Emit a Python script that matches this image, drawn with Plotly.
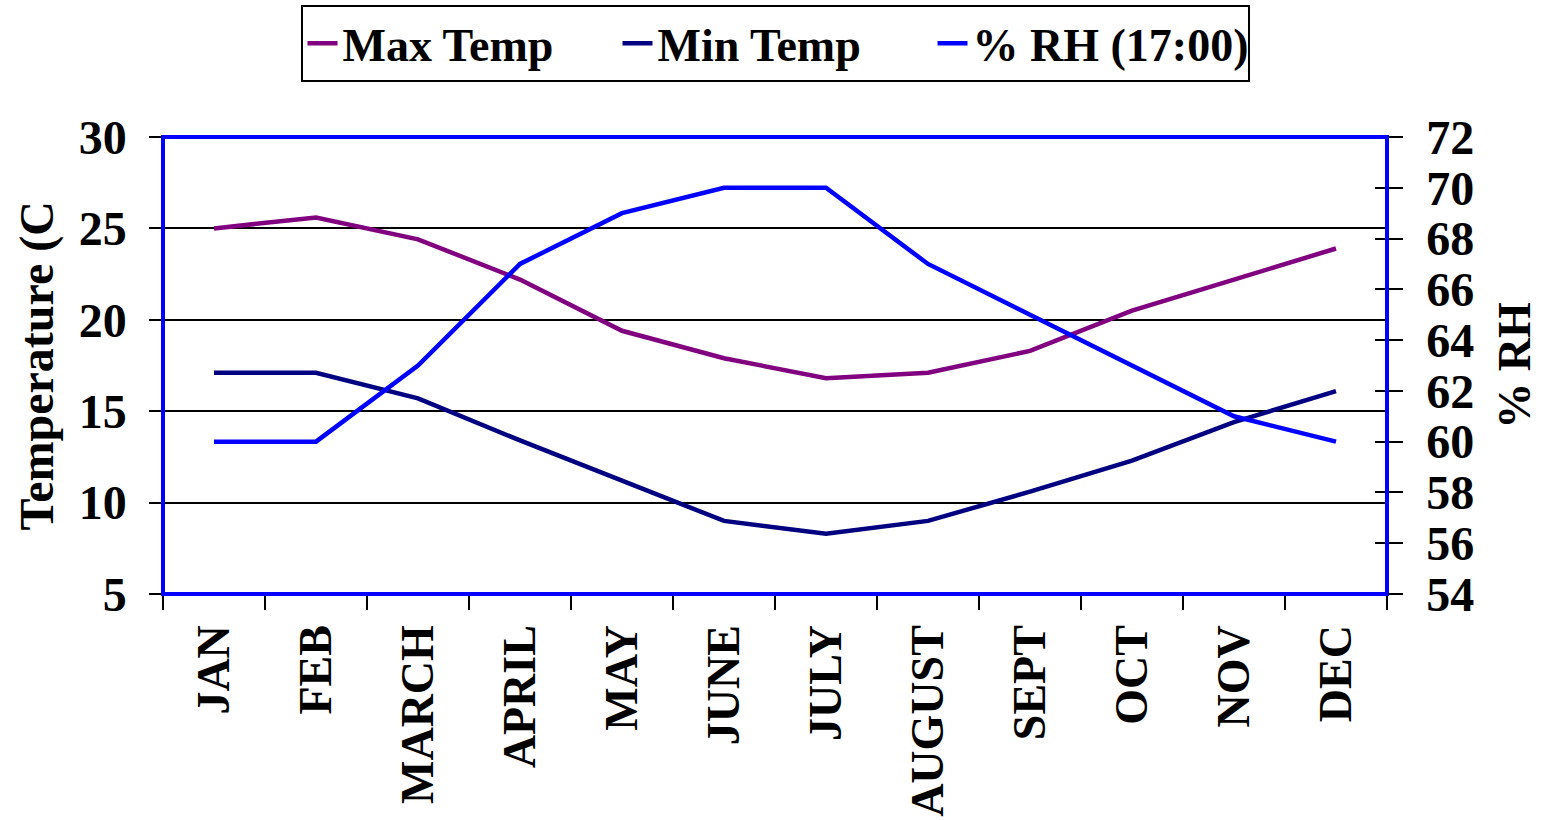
import plotly.graph_objects as go

# Monthly climate data
months = ["JAN", "FEB", "MARCH", "APRIL", "MAY", "JUNE",
          "JULY", "AUGUST", "SEPT", "OCT", "NOV", "DEC"]
max_temp = [25.0, 25.6, 24.4, 22.2, 19.4, 17.9, 16.8, 17.1, 18.3, 20.5, 22.2, 23.9]
min_temp = [17.1, 17.1, 15.7, 13.4, 11.2, 9.0, 8.3, 9.0, 10.6, 12.3, 14.4, 16.1]
rh_1700 = [60, 60, 63, 67, 69, 70, 70, 67, 65, 63, 61, 60]

FONT = "Liberation Serif"
FS = 48

fig = go.Figure()
fig.add_trace(go.Scatter(x=months, y=max_temp, name="<b>Max Temp</b>", mode="lines",
                         line=dict(color="#800080", width=4.5)))
fig.add_trace(go.Scatter(x=months, y=min_temp, name="<b>Min Temp</b>", mode="lines",
                         line=dict(color="#000080", width=4.5)))
fig.add_trace(go.Scatter(x=months, y=rh_1700, name="<b>% RH (17:00)</b>", mode="lines",
                         line=dict(color="#0000FF", width=4.5), yaxis="y2"))

tick_font = dict(family=FONT, size=FS, color="black", weight="bold")

fig.update_layout(
    width=1541, height=820,
    margin=dict(l=163, r=154, t=137, b=226, autoexpand=False),
    paper_bgcolor="white", plot_bgcolor="white",
    font=dict(family=FONT, color="black"),
    showlegend=True,
    legend=dict(orientation="h", x=0.5, xanchor="center", y=1.205, yanchor="middle",
                font=dict(family=FONT, size=46, color="black", weight="bold"),
                bordercolor="black", borderwidth=2, bgcolor="white",
                entrywidth=270, entrywidthmode="pixels", tracegroupgap=0),
    xaxis=dict(type="category", range=[-0.5, 11.5], tickson="boundaries",
               ticks="outside", ticklen=14, tickcolor="black", tickwidth=1.5,
               tickangle=-90, tickfont=dict(tick_font, size=46), ticklabelstandoff=11,
               showline=True, linecolor="black", linewidth=1.5,
               showgrid=False, zeroline=False),
    yaxis=dict(range=[5, 30], dtick=5, ticks="outside", ticklen=12,
               tickcolor="black", tickwidth=1.5, tickfont=tick_font,
               ticklabelstandoff=13,
               showline=True, linecolor="black", linewidth=1.5,
               showgrid=True, gridcolor="black", gridwidth=1.5, zeroline=False),
    yaxis2=dict(range=[54, 72], dtick=2, overlaying="y", side="right",
                ticks="outside", ticklen=14, tickcolor="black", tickwidth=1.5,
                tickfont=tick_font, ticklabelstandoff=14,
                showline=True, linecolor="black", linewidth=1.5,
                showgrid=False, zeroline=False),
    # inner half of the crossing tick marks on the right-hand axis
    yaxis3=dict(range=[54, 72], dtick=2, overlaying="y", side="right",
                ticks="inside", ticklen=12, tickcolor="black", tickwidth=1.5,
                showticklabels=False, showline=False, showgrid=False, zeroline=False),
)

# Invisible trace to activate the extra tick axis
fig.add_trace(go.Scatter(x=months, y=rh_1700, yaxis="y3", mode="lines",
                         line=dict(width=0), showlegend=False, hoverinfo="skip"))

# Blue plot-area border
fig.add_shape(type="rect", xref="paper", yref="paper", x0=0, x1=1, y0=0, y1=1,
              line=dict(color="#0000FF", width=4), layer="above")

# Axis titles
fig.add_annotation(text="<b>Temperature (C</b>", xref="paper", yref="paper",
                   x=-0.103, y=0.5, xanchor="center", yanchor="middle",
                   textangle=-90, showarrow=False,
                   font=dict(family=FONT, size=FS, color="black"))
fig.add_annotation(text="<b>% RH</b>", xref="paper", yref="paper",
                   x=1.104, y=0.5, xanchor="center", yanchor="middle",
                   textangle=-90, showarrow=False,
                   font=dict(family=FONT, size=46, color="black"))

fig.write_html("out.html")
